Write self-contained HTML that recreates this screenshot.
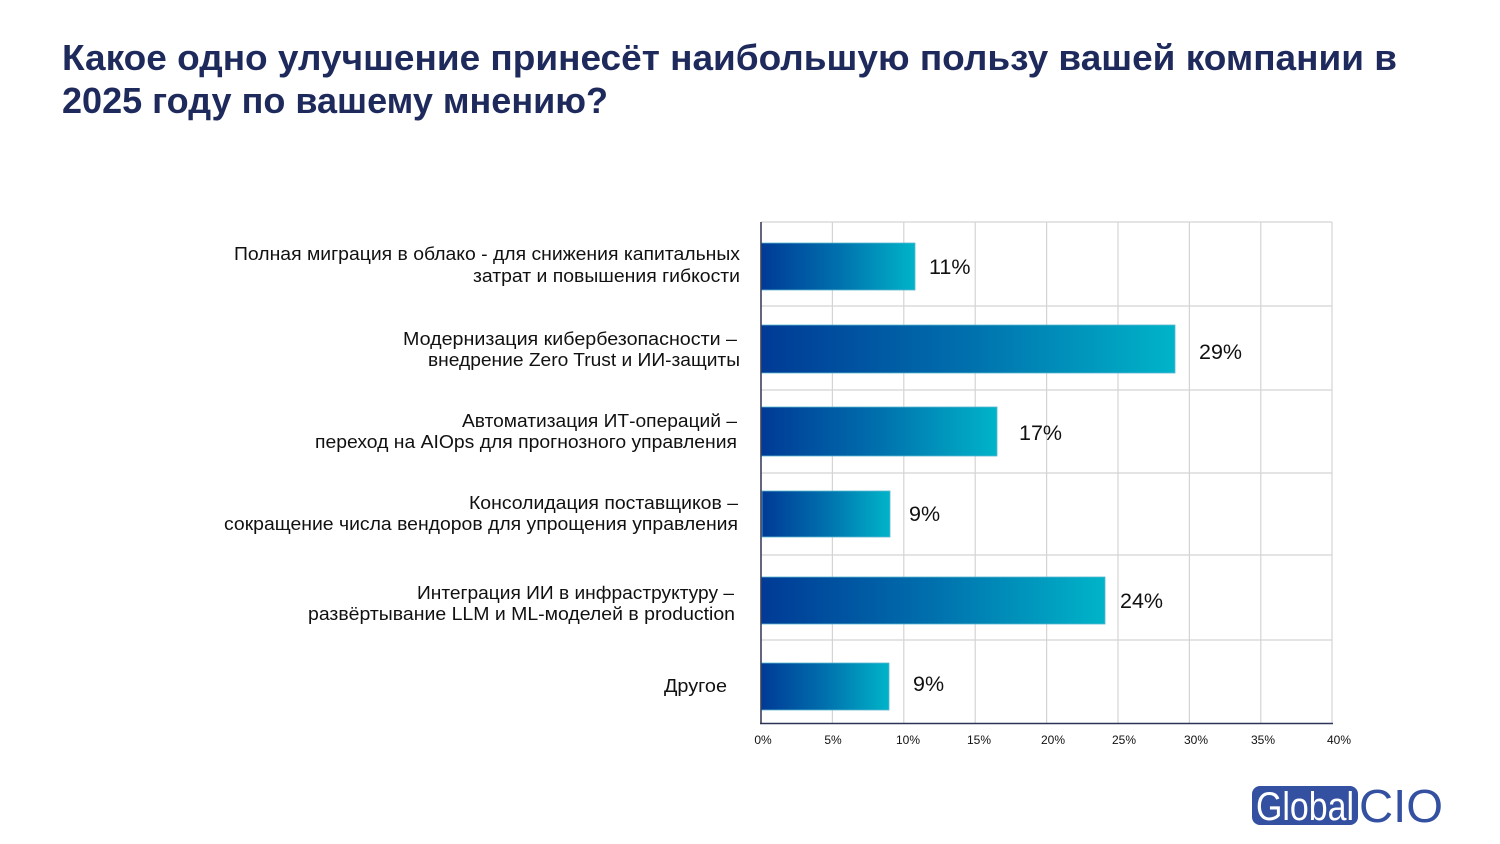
<!DOCTYPE html>
<html><head><meta charset="utf-8"><style>
html,body{margin:0;padding:0;background:#fff;}
svg{display:block;}
text{font-family:"Liberation Sans","Noto Sans CJK SC",sans-serif;}
</style></head><body>
<svg width="1500" height="844" viewBox="0 0 1500 844" xmlns="http://www.w3.org/2000/svg">
<defs>
<linearGradient id="g" x1="0" y1="0" x2="1" y2="0">
<stop offset="0" stop-color="#003a96"/>
<stop offset="0.5" stop-color="#0070ad"/>
<stop offset="1" stop-color="#00b4c9"/>
</linearGradient>
</defs>
<rect width="1500" height="844" fill="#fff"/>
<text x="62" y="70" font-size="36" font-weight="bold" fill="#1f2a5c" textLength="1335" lengthAdjust="spacingAndGlyphs">Какое одно улучшение принесёт наибольшую пользу вашей компании в</text>
<text x="62" y="113" font-size="36" font-weight="bold" fill="#1f2a5c" textLength="546" lengthAdjust="spacingAndGlyphs">2025 году по вашему мнению?</text>

<g stroke="#d4d4d4" stroke-width="1.2">
<line x1="832.4" y1="222" x2="832.4" y2="723"/>
<line x1="903.8" y1="222" x2="903.8" y2="723"/>
<line x1="975.2" y1="222" x2="975.2" y2="723"/>
<line x1="1046.6" y1="222" x2="1046.6" y2="723"/>
<line x1="1118" y1="222" x2="1118" y2="723"/>
<line x1="1189.4" y1="222" x2="1189.4" y2="723"/>
<line x1="1260.8" y1="222" x2="1260.8" y2="723"/>
<line x1="1332" y1="222" x2="1332" y2="723"/>
<line x1="761" y1="222" x2="1332" y2="222"/>
<line x1="761" y1="306" x2="1332" y2="306"/>
<line x1="761" y1="390" x2="1332" y2="390"/>
<line x1="761" y1="473" x2="1332" y2="473"/>
<line x1="761" y1="555" x2="1332" y2="555"/>
<line x1="761" y1="640" x2="1332" y2="640"/>
</g>

<g fill="url(#g)" stroke="#5ab6d0" stroke-width="0.8">
<rect x="761" y="243" width="154" height="47"/>
<rect x="761" y="325" width="414" height="48"/>
<rect x="761" y="407" width="236" height="49"/>
<rect x="762" y="491" width="128" height="46"/>
<rect x="761" y="577" width="344" height="47"/>
<rect x="761" y="663" width="128" height="47"/>
</g>

<line x1="761" y1="222" x2="761" y2="724" stroke="#3a3f5e" stroke-width="1.6"/>
<line x1="760" y1="723.5" x2="1333" y2="723.5" stroke="#2e3358" stroke-width="1.6"/>

<g font-size="21.5" fill="#111">
<text x="929" y="274">11%</text>
<text x="1199" y="359">29%</text>
<text x="1019" y="440">17%</text>
<text x="909" y="521">9%</text>
<text x="1120" y="608">24%</text>
<text x="913" y="691">9%</text>
</g>

<g font-size="18" fill="#111">
<text x="234" y="260" textLength="506" lengthAdjust="spacingAndGlyphs">Полная миграция в облако - для снижения капитальных</text>
<text x="473" y="282" textLength="267" lengthAdjust="spacingAndGlyphs">затрат и повышения гибкости</text>
<text x="403" y="345" textLength="334" lengthAdjust="spacingAndGlyphs">Модернизация кибербезопасности –</text>
<text x="428" y="366" textLength="312" lengthAdjust="spacingAndGlyphs">внедрение Zero Trust и ИИ-защиты</text>
<text x="462" y="427" textLength="275" lengthAdjust="spacingAndGlyphs">Автоматизация ИТ-операций –</text>
<text x="315" y="448" textLength="422" lengthAdjust="spacingAndGlyphs">переход на AIOps для прогнозного управления</text>
<text x="469" y="509" textLength="269" lengthAdjust="spacingAndGlyphs">Консолидация поставщиков –</text>
<text x="224" y="530" textLength="514" lengthAdjust="spacingAndGlyphs">сокращение числа вендоров для упрощения управления</text>
<text x="417" y="599" textLength="317" lengthAdjust="spacingAndGlyphs">Интеграция ИИ в инфраструктуру –</text>
<text x="308" y="620" textLength="427" lengthAdjust="spacingAndGlyphs">развёртывание LLM и ML-моделей в production</text>
<text x="664" y="692" textLength="63" lengthAdjust="spacingAndGlyphs">Другое</text>
</g>

<g font-size="12" fill="#111" text-anchor="middle">
<text x="763" y="744">0%</text>
<text x="833" y="744">5%</text>
<text x="908" y="744">10%</text>
<text x="979" y="744">15%</text>
<text x="1053" y="744">20%</text>
<text x="1124" y="744">25%</text>
<text x="1196" y="744">30%</text>
<text x="1263" y="744">35%</text>
<text x="1339" y="744">40%</text>
</g>

<rect x="1252" y="786" width="106" height="39" rx="8" fill="#3450a0"/>
<text x="1256" y="820" font-size="40" fill="#fff" textLength="98" lengthAdjust="spacingAndGlyphs">Global</text>
<text x="1359" y="822" font-size="46" fill="#3450a0" textLength="84" lengthAdjust="spacingAndGlyphs">CIO</text>
</svg>
</body></html>
